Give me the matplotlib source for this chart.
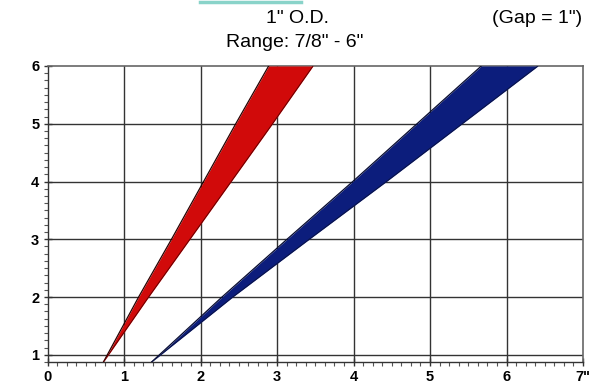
import matplotlib
matplotlib.use("Agg")
import matplotlib.pyplot as plt
import numpy as np
from matplotlib.lines import Line2D
from matplotlib.ticker import MultipleLocator

plt.rcParams["font.family"] = ["Liberation Sans", "DejaVu Sans"]

# --- datos (pulgadas) ---
gap_y = [0.875, 2, 3, 4, 5, 6]
red_left = [0.73, 1.19, 1.62, 2.04, 2.46, 2.89]
red_right = [0.73, 1.32, 1.86, 2.40, 2.94, 3.47]
blue_left = [1.36, 2.28, 3.13, 3.99, 4.83, 5.67]
blue_right = [1.36, 2.42, 3.42, 4.43, 5.42, 6.41]
x_ticks = [0, 1, 2, 3, 4, 5, 6, 7]
x_labels = ["0", "1", "2", "3", "4", "5", "6", '7"']
y_ticks = [1, 2, 3, 4, 5, 6]

fig = plt.figure(figsize=(5.97, 3.87), dpi=100)
ax = fig.add_axes([0.0797, 0.0646, 0.8969, 0.7649])

# bandas
ax.fill_betweenx(gap_y, red_left, red_right, color="#d10a0a", lw=0, zorder=3)
ax.plot(red_left, gap_y, color="#2a0000", lw=0.9, zorder=4)
ax.plot(red_right, gap_y, color="#5a0000", lw=0.6, zorder=4)
ax.fill_betweenx(gap_y, blue_left, blue_right, color="#0c1d7c", lw=0, zorder=3)
ax.plot(blue_left, gap_y, color="#050a30", lw=0.9, zorder=4)
ax.plot(blue_right, gap_y, color="#0a1240", lw=0.6, zorder=4)

# rejilla
for xv in x_ticks[1:-1]:
    ax.axvline(xv, color="#333333", lw=1.0, zorder=2)
for yv in y_ticks[:-1]:
    ax.axhline(yv, color="#333333", lw=1.0, zorder=2)

ax.set_xlim(0, 7)
ax.set_ylim(0.875, 6)
ax.set_xticks(x_ticks)
ax.set_xticklabels(x_labels)
ax.set_yticks(y_ticks)
ax.xaxis.set_minor_locator(MultipleLocator(0.125))
ax.yaxis.set_minor_locator(MultipleLocator(0.125))
ax.tick_params(which="major", length=6, width=1.0, color="#333333", direction="inout",
               labelsize=10.5, pad=3)
ax.tick_params(which="minor", length=3, width=0.8, color="#555555", direction="out")
for lab in ax.get_xticklabels() + ax.get_yticklabels():
    lab.set_fontweight("bold")

for side in ["top", "right"]:
    ax.spines[side].set_color("#666666")
    ax.spines[side].set_linewidth(1.2)
for side in ["left", "bottom"]:
    ax.spines[side].set_color("#333333")
    ax.spines[side].set_linewidth(1.0)

# textos
fig.text(0.499, 0.953, '1" O.D.', ha="center", va="center", fontsize=14)
fig.text(0.494, 0.890, 'Range: 7/8" - 6"', ha="center", va="center", fontsize=14)
fig.text(0.900, 0.953, '(Gap = 1")', ha="center", va="center", fontsize=14)

# resto de trazo teal del escaneo
fig.add_artist(Line2D([0.335, 0.505], [0.994, 0.994], transform=fig.transFigure,
                      color="#6cc9bc", lw=2.5, alpha=0.8))

fig.savefig("out.png", dpi=100)
